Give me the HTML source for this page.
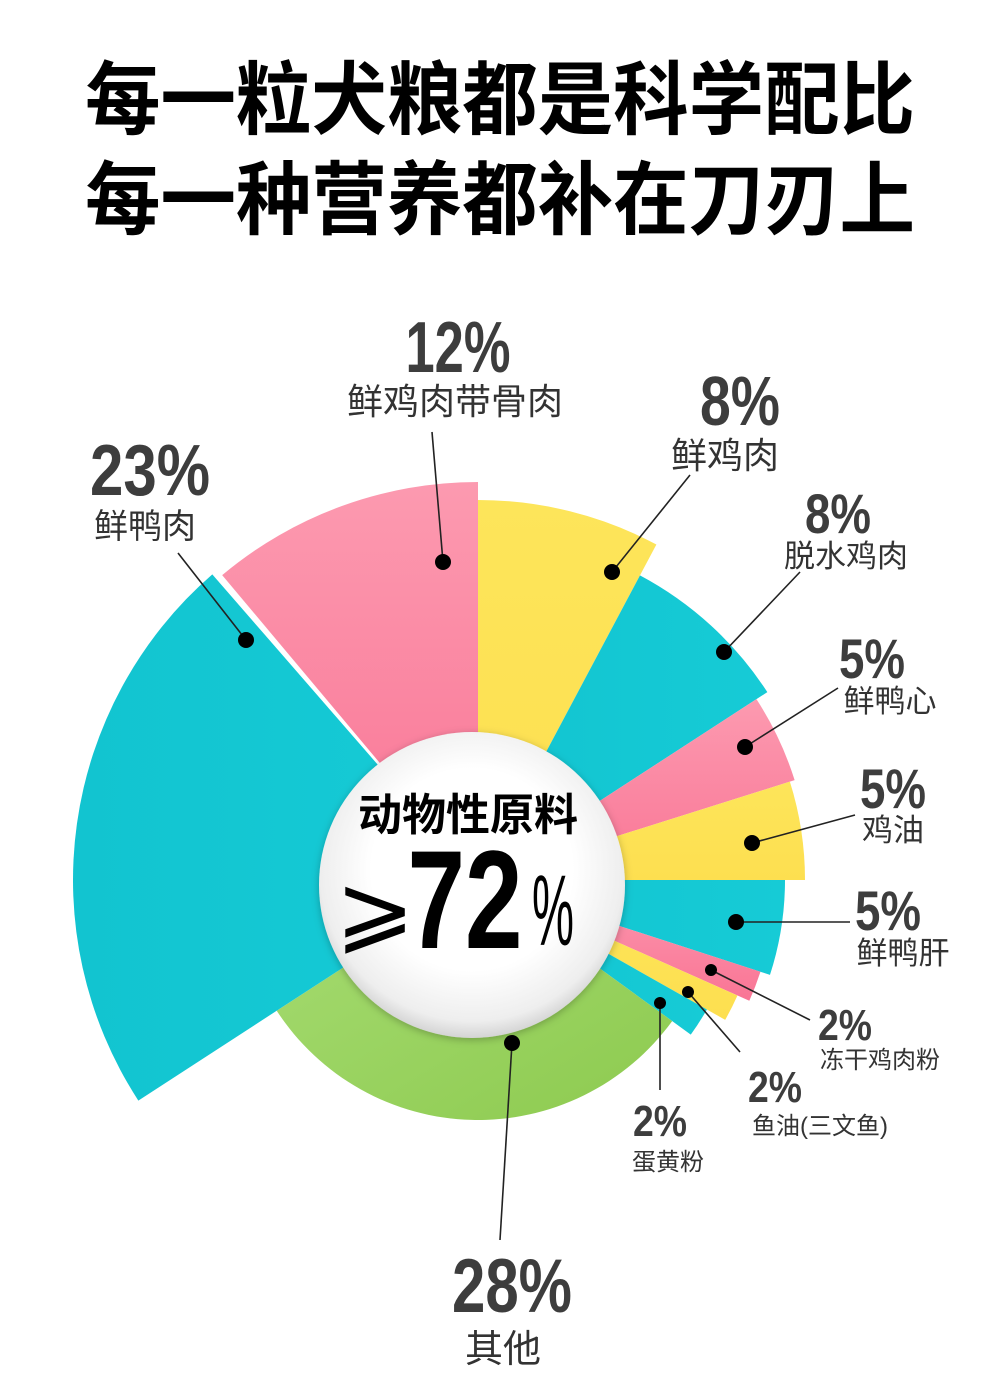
<!DOCTYPE html>
<html><head><meta charset="utf-8"><style>
html,body{margin:0;padding:0;background:#fff;}
svg{display:block;}
.t{font-family:"Liberation Sans","Noto Sans CJK SC",sans-serif;font-weight:bold;fill:#000;}
.p{font-family:"Liberation Sans Narrow","Liberation Sans",sans-serif;font-weight:bold;fill:#3d3d3d;}
.l{font-family:"Liberation Sans","Noto Sans CJK SC",sans-serif;fill:#333;}
</style></head><body>
<svg width="1000" height="1394" viewBox="0 0 1000 1394" xmlns="http://www.w3.org/2000/svg">
<defs>
<linearGradient id="pk" x1="0" y1="0" x2="0" y2="1"><stop offset="0" stop-color="#fc9ab0"/><stop offset="1" stop-color="#f97595"/></linearGradient>
<linearGradient id="yl" x1="0" y1="0" x2="0" y2="1"><stop offset="0" stop-color="#fde55a"/><stop offset="1" stop-color="#fddf50"/></linearGradient>
<linearGradient id="tl" x1="0" y1="0" x2="1" y2="0"><stop offset="0" stop-color="#12c4d0"/><stop offset="1" stop-color="#16cbd6"/></linearGradient>
<linearGradient id="gr" x1="0" y1="0" x2="1" y2="1"><stop offset="0" stop-color="#a6dc72"/><stop offset="1" stop-color="#8dca4f"/></linearGradient>
<radialGradient id="wc" cx="0.5" cy="0.45" r="0.55"><stop offset="0.6" stop-color="#fff"/><stop offset="0.9" stop-color="#eee"/><stop offset="1" stop-color="#d4d4d4"/></radialGradient>
<filter id="sh" x="-20%" y="-20%" width="140%" height="140%"><feDropShadow dx="0" dy="2" stdDeviation="4" flood-opacity="0.25"/></filter>
</defs>
<text class="t" x="500" y="128" font-size="80" text-anchor="middle" textLength="830" lengthAdjust="spacingAndGlyphs">每一粒犬粮都是科学配比</text>
<text class="t" x="500" y="228" font-size="80" text-anchor="middle" textLength="830" lengthAdjust="spacingAndGlyphs">每一种营养都补在刀刃上</text>
<g id="wedges"></g>
<circle cx="472" cy="885" r="153" fill="url(#wc)" filter="url(#sh)"/>
<text class="t" x="468" y="830" font-size="44" text-anchor="middle">动物性原料</text>
<text x="375" y="942" font-size="95" text-anchor="middle" style="font-family:'DejaVu Sans',sans-serif;fill:#000">⩾</text>
<text class="p" x="465" y="948" font-size="140" text-anchor="middle" style="fill:#000" textLength="115" lengthAdjust="spacingAndGlyphs">72</text>
<text class="p" x="553" y="945" font-size="100" text-anchor="middle" style="fill:#000;font-weight:normal" textLength="42" lengthAdjust="spacingAndGlyphs">%</text>
<g stroke="#222" stroke-width="1.6" fill="none">
<line x1="443" y1="562" x2="432" y2="432"/>
<line x1="612" y1="572" x2="690" y2="475"/>
<line x1="246" y1="640" x2="178" y2="553"/>
<line x1="724" y1="652" x2="800" y2="572"/>
<line x1="745" y1="747" x2="838" y2="688"/>
<line x1="752" y1="843" x2="855" y2="815"/>
<line x1="736" y1="922" x2="850" y2="922"/>
<line x1="711" y1="970" x2="810" y2="1020"/>
<line x1="688" y1="992" x2="740" y2="1052"/>
<line x1="660" y1="1003" x2="660" y2="1090"/>
<line x1="512" y1="1043" x2="500" y2="1240"/>
</g>
<g fill="#000">
<circle cx="443" cy="562" r="8"/><circle cx="612" cy="572" r="8"/><circle cx="246" cy="640" r="8"/>
<circle cx="724" cy="652" r="8"/><circle cx="745" cy="747" r="8"/><circle cx="752" cy="843" r="8"/>
<circle cx="736" cy="922" r="8"/><circle cx="711" cy="970" r="6"/><circle cx="688" cy="992" r="6"/>
<circle cx="660" cy="1003" r="6"/><circle cx="512" cy="1043" r="8"/>
</g>
<g class="p" text-anchor="middle">
<text x="458" y="372" font-size="72" textLength="105" lengthAdjust="spacingAndGlyphs">12%</text>
<text x="740" y="425" font-size="70" textLength="80" lengthAdjust="spacingAndGlyphs">8%</text>
<text x="150" y="495" font-size="72" textLength="120" lengthAdjust="spacingAndGlyphs">23%</text>
<text x="838" y="533" font-size="56" textLength="66" lengthAdjust="spacingAndGlyphs">8%</text>
<text x="872" y="678" font-size="56" textLength="66" lengthAdjust="spacingAndGlyphs">5%</text>
<text x="893" y="808" font-size="56" textLength="66" lengthAdjust="spacingAndGlyphs">5%</text>
<text x="888" y="930" font-size="56" textLength="66" lengthAdjust="spacingAndGlyphs">5%</text>
<text x="845" y="1040" font-size="44" textLength="54" lengthAdjust="spacingAndGlyphs">2%</text>
<text x="775" y="1102" font-size="44" textLength="54" lengthAdjust="spacingAndGlyphs">2%</text>
<text x="660" y="1136" font-size="44" textLength="54" lengthAdjust="spacingAndGlyphs">2%</text>
<text x="512" y="1312" font-size="76" textLength="120" lengthAdjust="spacingAndGlyphs">28%</text>
</g>
<g class="l" text-anchor="middle">
<text x="455" y="414" font-size="36">鲜鸡肉带骨肉</text>
<text x="725" y="468" font-size="36">鲜鸡肉</text>
<text x="145" y="538" font-size="34">鲜鸭肉</text>
<text x="846" y="567" font-size="31">脱水鸡肉</text>
<text x="890" y="712" font-size="31">鲜鸭心</text>
<text x="893" y="841" font-size="31">鸡油</text>
<text x="903" y="964" font-size="31">鲜鸭肝</text>
<text x="880" y="1068" font-size="24">冻干鸡肉粉</text>
<text x="820" y="1134" font-size="24">鱼油(三文鱼)</text>
<text x="668" y="1170" font-size="24">蛋黄粉</text>
<text x="503" y="1362" font-size="38">其他</text>
</g>
</svg>
<script>
(function(){
var cx=478,cy=880,g=document.getElementById('wedges');
var W=[[-130,-90,398,'url(#pk)'],[-90,-62,380,'url(#yl)'],[-62,-33,345,'url(#tl)'],[-33,-17.5,332,'url(#pk)'],[-17.5,0,327,'url(#yl)'],[0,18,307,'url(#tl)'],[18,24,297,'url(#pk)'],[24,29.5,284,'url(#yl)'],[29.5,36,263,'url(#tl)'],[36,147,240,'url(#gr)'],[147,229,405,'url(#tl)']];
W.forEach(function(w){
var a=w[0]*Math.PI/180,b=w[1]*Math.PI/180,r=w[2];
var x1=cx+r*Math.cos(a),y1=cy+r*Math.sin(a),x2=cx+r*Math.cos(b),y2=cy+r*Math.sin(b);
var large=(w[1]-w[0])>180?1:0;
var p=document.createElementNS('http://www.w3.org/2000/svg','path');
p.setAttribute('d','M'+cx+' '+cy+'L'+x1+' '+y1+'A'+r+' '+r+' 0 '+large+' 1 '+x2+' '+y2+'Z');
p.setAttribute('fill',w[3]);
g.appendChild(p);
});
})();
</script>
</body></html>
